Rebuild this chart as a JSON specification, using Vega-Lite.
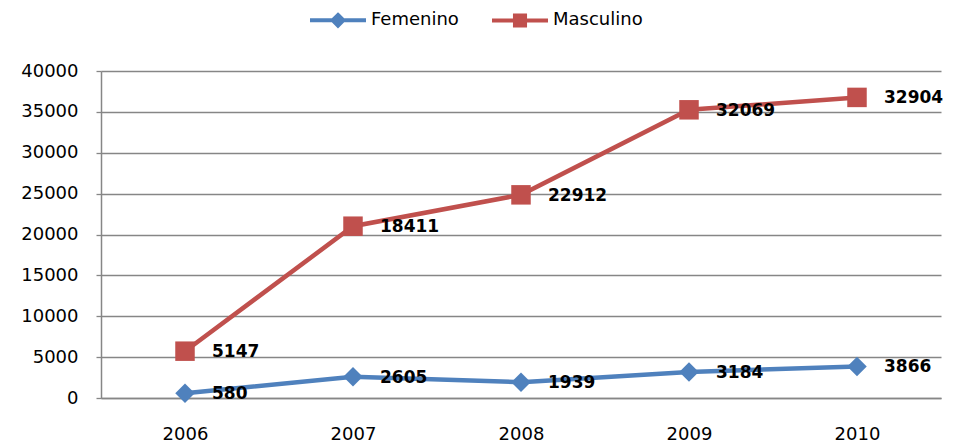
{
  "$schema": "https://vega.github.io/schema/vega-lite/v6.json",
  "width": 840,
  "height": 327,
  "autosize": {"type": "none"},
  "padding": {"left": 101, "top": 71, "right": 22, "bottom": 48},
  "background": "white",
  "data": {
    "values": [
      {"year": "2006", "serie": "Femenino", "value": 580},
      {"year": "2007", "serie": "Femenino", "value": 2605},
      {"year": "2008", "serie": "Femenino", "value": 1939},
      {"year": "2009", "serie": "Femenino", "value": 3184},
      {"year": "2010", "serie": "Femenino", "value": 3866},
      {"year": "2006", "serie": "Masculino", "value": 5147},
      {"year": "2007", "serie": "Masculino", "value": 18411},
      {"year": "2008", "serie": "Masculino", "value": 22912},
      {"year": "2009", "serie": "Masculino", "value": 32069},
      {"year": "2010", "serie": "Masculino", "value": 32904}
    ]
  },
  "encoding": {
    "x": {
      "field": "year", "type": "ordinal",
      "scale": {"type": "point", "padding": 0.5},
      "axis": {
        "title": null, "labelAngle": 0, "labelFont": "DejaVu Sans", "labelFontSize": 18,
        "labelColor": "#000000", "labelPadding": 27, "ticks": false,
        "domainColor": "#868686", "domainWidth": 1.3, "grid": false
      }
    },
    "y": {
      "field": "value", "type": "quantitative", "stack": "zero",
      "scale": {"domain": [0, 40000], "nice": false, "zero": true},
      "axis": {
        "title": null, "values": [0, 5000, 10000, 15000, 20000, 25000, 30000, 35000, 40000],
        "format": "d",
        "labelFont": "DejaVu Sans", "labelFontSize": 18, "labelColor": "#000000",
        "labelPadding": 18, "tickSize": 5, "tickColor": "#868686", "tickWidth": 1.3,
        "domainColor": "#868686", "domainWidth": 1.5,
        "grid": true, "gridColor": "#868686", "gridWidth": 1.3
      }
    },
    "order": {"field": "serie", "sort": "ascending"}
  },
  "layer": [
    {
      "mark": {"type": "line", "strokeWidth": 4.5},
      "encoding": {
        "color": {
          "field": "serie", "type": "nominal",
          "scale": {"domain": ["Femenino", "Masculino"], "range": ["#4F81BD", "#C0504D"]},
          "legend": null
        }
      }
    },
    {
      "mark": {"type": "point", "filled": true, "opacity": 1, "size": 380},
      "encoding": {
        "color": {
          "field": "serie", "type": "nominal",
          "scale": {"domain": ["Femenino", "Masculino"], "range": ["#4F81BD", "#C0504D"]},
          "legend": null
        },
        "shape": {
          "field": "serie", "type": "nominal",
          "scale": {"domain": ["Femenino", "Masculino"], "range": ["diamond", "square"]},
          "legend": null
        }
      }
    },
    {
      "mark": {"type": "text", "align": "left", "baseline": "middle", "dx": 27, "dy": 1,
               "font": "DejaVu Sans", "fontSize": 17, "fontWeight": "bold", "color": "#000000"},
      "encoding": {
        "text": {"field": "value", "type": "quantitative", "format": "d"},
        "detail": {"field": "serie", "type": "nominal"}
      }
    },
    {
      "transform": [{"filter": "datum.value < 0"}],
      "mark": {"type": "point", "filled": true, "size": 3136, "strokeWidth": 4, "opacity": 1},
      "encoding": {
        "shape": {
          "field": "serie", "type": "nominal",
          "scale": {"domain": ["Femenino", "Masculino"],
                    "range": ["M-1,0H1M0,-0.19L0.19,0L0,0.19L-0.19,0Z", "M-1,0H1M-0.18,-0.18H0.18V0.18H-0.18Z"]},
          "legend": {
            "title": null, "orient": "none", "direction": "horizontal",
            "legendX": 207, "legendY": -81,
            "labelFont": "DejaVu Sans", "labelFontSize": 18, "labelColor": "#000000",
            "labelOffset": 3, "columnPadding": 25, "symbolStrokeWidth": 4, "symbolSize": 3136
          }
        },
        "fill": {
          "field": "serie", "type": "nominal",
          "scale": {"domain": ["Femenino", "Masculino"], "range": ["#4F81BD", "#C0504D"]},
          "legend": {
            "title": null, "orient": "none", "direction": "horizontal",
            "legendX": 207, "legendY": -81,
            "labelFont": "DejaVu Sans", "labelFontSize": 18, "labelColor": "#000000",
            "labelOffset": 3, "columnPadding": 25, "symbolStrokeWidth": 4, "symbolSize": 3136
          }
        },
        "stroke": {
          "field": "serie", "type": "nominal",
          "scale": {"domain": ["Femenino", "Masculino"], "range": ["#4F81BD", "#C0504D"]},
          "legend": {
            "title": null, "orient": "none", "direction": "horizontal",
            "legendX": 207, "legendY": -81,
            "labelFont": "DejaVu Sans", "labelFontSize": 18, "labelColor": "#000000",
            "labelOffset": 3, "columnPadding": 25, "symbolStrokeWidth": 4, "symbolSize": 3136
          }
        }
      }
    }
  ],
  "resolve": {"scale": {"shape": "independent", "fill": "independent", "stroke": "independent"}},
  "config": {"view": {"stroke": null}}
}
